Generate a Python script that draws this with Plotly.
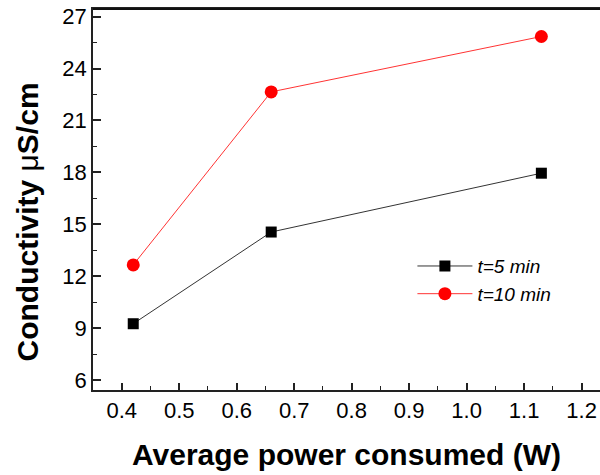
import plotly.graph_objects as go

power_w = [0.42, 0.66, 1.13]
cond_t5 = [9.25, 14.55, 17.95]
cond_t10 = [12.65, 22.65, 25.85]
series_names = ["t=5 min", "t=10 min"]
x_title = "Average power consumed (W)"
y_title = "Conductivity <span style='font-weight:normal'>μ</span>S/cm"
x_ticks = [0.4, 0.5, 0.6, 0.7, 0.8, 0.9, 1.0, 1.1, 1.2]
y_ticks = [6, 9, 12, 15, 18, 21, 24, 27]

FONT = "Liberation Sans, Arial, sans-serif"
AX = "#222222"

fig = go.Figure()
fig.add_trace(go.Scatter(
    x=power_w, y=cond_t5, name=series_names[0], mode="lines+markers",
    line=dict(color="#333333", width=1),
    marker=dict(symbol="square", size=11, color="black"),
))
fig.add_trace(go.Scatter(
    x=power_w, y=cond_t10, name=series_names[1], mode="lines+markers",
    line=dict(color="#ff3333", width=1),
    marker=dict(symbol="circle", size=13, color="#ff0000"),
))

fig.update_layout(
    width=600, height=475,
    margin=dict(l=93, r=0, t=9, b=85),
    paper_bgcolor="white", plot_bgcolor="white",
    font=dict(family=FONT, color="black"),
    showlegend=True,
    legend=dict(
        x=0.630, y=0.375, xanchor="left", yanchor="top",
        bgcolor="rgba(0,0,0,0)", borderwidth=0,
        font=dict(family=FONT, size=19, style="italic"),
        itemwidth=55, tracegroupgap=0,
    ),
    xaxis=dict(
        range=[0.35, 1.232], tickvals=x_ticks, ticktext=[f"{v:.1f}" for v in x_ticks],
        ticks="inside", ticklen=7, tickwidth=1.5, tickcolor=AX,
        minor=dict(dtick=0.05, tick0=0.35, ticks="inside", ticklen=4, tickwidth=1.2, tickcolor=AX),
        showline=True, linecolor=AX, linewidth=1.5, mirror=True,
        showgrid=False, zeroline=False,
        tickfont=dict(size=22, family=FONT), ticklabeloverflow="allow",
        title=dict(text=x_title, font=dict(size=30, family=FONT, weight="bold"), standoff=22),
        automargin=False,
    ),
    yaxis=dict(
        range=[5.42, 27.44], tickvals=y_ticks,
        ticks="inside", ticklen=8, tickwidth=1.5, tickcolor=AX,
        minor=dict(dtick=1.5, tick0=6, ticks="inside", ticklen=4, tickwidth=1.2, tickcolor=AX),
        showline=True, linecolor=AX, linewidth=1.5, mirror=False,
        showgrid=False, zeroline=False,
        tickfont=dict(size=22, family=FONT), ticklabeloverflow="allow",
        automargin=False,
    ),
    annotations=[dict(
        text=y_title, xref="paper", yref="paper", x=-0.13, y=0.44,
        xanchor="center", yanchor="middle", textangle=-90, showarrow=False,
        font=dict(size=30, family=FONT, weight="bold", color="black"),
    )],
    shapes=[dict(
        type="line", xref="paper", yref="paper", x0=0, x1=1, y0=1, y1=1,
        line=dict(color="#111111", width=2), layer="above",
    )],
)

fig.write_html("out.html", config={"displayModeBar": False},
               post_script="document.body.style.margin='0';")
